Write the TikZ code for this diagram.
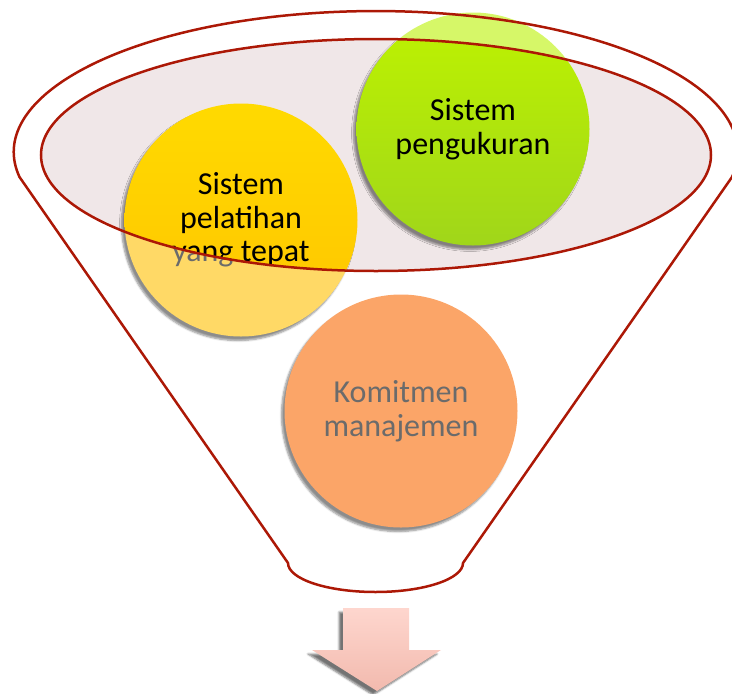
\documentclass[tikz,border=0pt]{standalone}
\usepackage{fontspec}
\setmainfont{Carlito}
\usetikzlibrary{shadows.blur}

\definecolor{funnelred}{RGB}{172,24,6}
\definecolor{bowlfill}{RGB}{240,231,232}
\definecolor{yellowtop}{RGB}{255,218,0}
\definecolor{yellowbot}{RGB}{255,196,0}
\definecolor{yellowpale}{RGB}{255,217,102}
\definecolor{greentop}{RGB}{190,243,0}
\definecolor{greenbot}{RGB}{160,214,26}
\definecolor{greenpale}{RGB}{214,247,104}
\definecolor{orangefill}{RGB}{251,165,104}
\definecolor{fadedtext}{RGB}{107,107,107}
\definecolor{arrowtop}{RGB}{254,214,206}
\definecolor{arrowbot}{RGB}{242,186,174}

\begin{document}
\begin{tikzpicture}[x=1pt,y=-1pt,
  bubble/.style={circle, minimum size=233pt, inner sep=0pt, align=center,
    font=\fontsize{32}{33.5}\selectfont,
    blur shadow={shadow xshift=-3pt, shadow yshift=-4pt,
      shadow blur steps=6, shadow opacity=45}},
  funnel/.style={draw=funnelred, line width=2.5pt},
  downarrow/.style={top color=arrowtop, bottom color=arrowbot,
    blur shadow={shadow xshift=-4pt, shadow yshift=-4pt,
      shadow blur steps=5, shadow opacity=55}}]

\useasboundingbox (0,0) rectangle (732,694);
\clip (0,0) rectangle (732,694);

% pale layer: the parts of the bubbles outside the bowl
\node[bubble, top color=yellowpale, bottom color=yellowpale, text=fadedtext]
  (yellowPale) at (241,220) {Sistem\\pelatihan\\yang tepat};
\node[bubble, top color=greenpale, bottom color=greenpale, text=fadedtext]
  (greenPale) at (473,129) {Sistem\\pengukuran};
\node[bubble, fill=orangefill, text=fadedtext]
  (commitment) at (401,411) {Komitmen\\manajemen};

% bright layer: everything inside the bowl
\begin{scope}
  \clip (376,155) ellipse [x radius=335, y radius=116];
  \fill[bowlfill] (376,155) ellipse [x radius=335, y radius=116];
  \node[bubble, top color=yellowtop, bottom color=yellowbot, text=black]
    (training) at (241,220) {Sistem\\pelatihan\\yang tepat};
  \node[bubble, top color=greentop, bottom color=greenbot, text=black]
    (measuring) at (473,129) {Sistem\\pengukuran};
\end{scope}

% bowl rim and funnel outline
\draw[funnel] (376,155) ellipse [x radius=335, y radius=116];
\draw[funnel] (288,563) -- (19.5,177)
  arc[start angle=169.8, end angle=370.2, x radius=362, y radius=141]
  -- (463,563)
  arc[start angle=0, end angle=180, x radius=87.5, y radius=29]
  -- cycle;

% output arrow
\path[downarrow] (343,608) -- (409,608) -- (409,650) -- (441,650)
  -- (377,691) -- (312,650) -- (343,650) -- cycle;
\end{tikzpicture}
\end{document}
